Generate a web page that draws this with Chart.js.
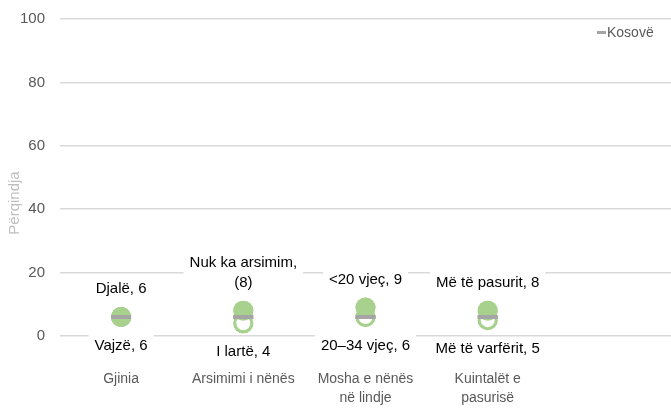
<!DOCTYPE html>
<html>
<head>
<meta charset="utf-8">
<script src="https://cdn.jsdelivr.net/npm/chart.js@4"></script>
<style>
  html, body { margin: 0; padding: 0; background: #fff; overflow: hidden; }
  #wrap { width: 671px; height: 409px; }
</style>
</head>
<body>
<div id="wrap"><canvas id="myChart"></canvas></div>
<script>
const categories = ['Gjinia', 'Arsimimi i nënës', ['Mosha e nënës', 'në lindje'], ['Kuintalët e', 'pasurisë'], ''];
const highValues = [6, 8, 9, 8, null];
const lowValues = [6, 4, 6, 5, null];
const kosovoValues = [6, 6, 6, 6, null];
const highLabels = [['Djalë, 6'], ['Nuk ka arsimim,', '(8)'], ['<20 vjeç, 9'], ['Më të pasurit, 8']];
const lowLabels = [['Vajzë, 6'], ['I lartë, 4'], ['20–34 vjeç, 6'], ['Më të varfërit, 5']];
const yTicks = [0, 20, 40, 60, 80, 100];

const FONT = "'Liberation Sans', Arial, sans-serif";
const GREEN = '#a9d18e';
const GREY = '#a5a5a5';

// data labels with white boxes, legend and y title
const extras = {
  id: 'extras',
  afterDatasetsDraw(chart) {
    const ctx = chart.ctx;
    ctx.save();
    ctx.font = '15px ' + FONT;
    ctx.textAlign = 'center';
    ctx.textBaseline = 'middle';
    const drawLines = (lines, x, yLast) => {
      lines.forEach((t, i) => {
        const y = yLast - (lines.length - 1 - i) * 20;
        const w = ctx.measureText(t).width;
        ctx.fillStyle = '#fff';
        ctx.fillRect(x - w / 2 - 6, y - 12, w + 12, 24);
        ctx.fillStyle = '#000';
        ctx.fillText(t, x, y);
      });
    };
    const hi = chart.getDatasetMeta(1).data;
    const lo = chart.getDatasetMeta(0).data;
    highLabels.forEach((lines, i) => drawLines(lines, hi[i].x, hi[i].y - 28));
    lowLabels.forEach((lines, i) => drawLines(lines, lo[i].x, lo[i].y + 29));
    // redraw points over boxes
    chart.getDatasetMeta(0).controller.draw();
    chart.getDatasetMeta(1).controller.draw();
    chart.getDatasetMeta(2).controller.draw();

    // legend
    ctx.fillStyle = GREY;
    ctx.fillRect(597, 31, 9, 3);
    ctx.fillStyle = '#595959';
    ctx.font = '14px ' + FONT;
    ctx.textAlign = 'left';
    ctx.fillText('Kosovë', 607, 33);

    // y axis title
    ctx.font = '15px ' + FONT;
    ctx.translate(15, 203);
    ctx.rotate(-Math.PI / 2);
    ctx.textAlign = 'center';
    ctx.fillStyle = '#bfbfbf';
    ctx.fillText('Përqindja', 0, 0);
    ctx.restore();
  }
};

new Chart(document.getElementById('myChart'), {
  type: 'line',
  data: {
    labels: categories,
    datasets: [
      {
        label: 'low',
        data: lowValues,
        showLine: false,
        pointStyle: 'circle',
        pointRadius: 8.5,
        pointBorderWidth: 3,
        pointBackgroundColor: '#fff',
        pointBorderColor: GREEN
      },
      {
        label: 'high',
        data: highValues,
        showLine: false,
        pointStyle: 'circle',
        pointRadius: 10,
        pointBorderWidth: 0,
        pointBackgroundColor: GREEN,
        pointBorderColor: GREEN
      },
      {
        label: 'Kosovë',
        data: kosovoValues,
        showLine: false,
        pointStyle: 'line',
        pointRadius: 10,
        pointBorderWidth: 4,
        pointBorderColor: GREY
      }
    ]
  },
  options: {
    responsive: true,
    maintainAspectRatio: false,
    animation: false,
    events: [],
    layout: { padding: { top: 19, right: 0, left: 0, bottom: 0 } },
    plugins: { legend: { display: false }, tooltip: { enabled: false } },
    scales: {
      x: {
        offset: true,
        grid: { display: false, offset: true },
        border: { display: false },
        ticks: {
          padding: 26,
          color: '#595959',
          font: { family: FONT, size: 14, lineHeight: 1.36 },
          maxRotation: 0,
          autoSkip: false
        },
        afterFit(scale) {
          scale.height = 409 - 336;
          scale.paddingLeft = 0;
          scale.paddingRight = 0;
        }
      },
      y: {
        min: 0,
        max: 100,
        afterBuildTicks(scale) { scale.ticks = yTicks.map(v => ({ value: v })); },
        grid: { color: '#d9d9d9', lineWidth: 1.5, drawTicks: false },
        border: { display: false },
        ticks: {
          padding: 15,
          color: '#595959',
          font: { family: FONT, size: 15 }
        },
        afterFit(scale) {
          scale.width = 60;
          scale.paddingTop = 0;
          scale.paddingBottom = 0;
        }
      }
    }
  },
  plugins: [extras, {
    id: 'fullWidth',
    // stretch plot area to the right edge, like the original
    afterLayout(chart) {
      const right = chart.width;
      chart.chartArea.right = right;
      chart.chartArea.width = right - chart.chartArea.left;
      const x = chart.scales.x;
      x.right = right;
      x.width = right - x.left;
      x.configure();
      const y = chart.scales.y;
      y.right = y.right;
    }
  }]
});
</script>
</body>
</html>
